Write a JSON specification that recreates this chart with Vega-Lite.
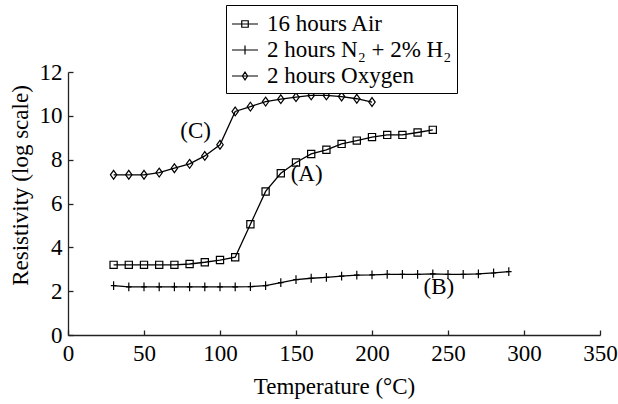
{
  "$schema": "https://vega.github.io/schema/vega-lite/v6.json",
  "width": 532,
  "height": 263,
  "autosize": "none",
  "padding": {"left": 68, "top": 72, "right": 18, "bottom": 69},
  "background": "white",
  "config": {
    "view": {"stroke": null},
    "font": "Liberation Serif",
    "axis": {
      "grid": false,
      "domainColor": "#222222",
      "domainWidth": 1.3,
      "tickColor": "#222222",
      "tickWidth": 1.3,
      "tickSize": -5,
      "labelFont": "Liberation Serif",
      "labelFontSize": 23,
      "labelColor": "black",
      "labelFlush": false,
      "labelOverlap": false,
      "titleFont": "Liberation Serif",
      "titleFontSize": 23,
      "titleFontWeight": "normal",
      "titleColor": "black"
    }
  },
  "datasets": {
    "curves": [
      {"series": "16 hours Air", "t": 30, "r": 3.2},
      {"series": "16 hours Air", "t": 40, "r": 3.2},
      {"series": "16 hours Air", "t": 50, "r": 3.2},
      {"series": "16 hours Air", "t": 60, "r": 3.2},
      {"series": "16 hours Air", "t": 70, "r": 3.2},
      {"series": "16 hours Air", "t": 80, "r": 3.24},
      {"series": "16 hours Air", "t": 90, "r": 3.32},
      {"series": "16 hours Air", "t": 100, "r": 3.42},
      {"series": "16 hours Air", "t": 110, "r": 3.55},
      {"series": "16 hours Air", "t": 120, "r": 5.05},
      {"series": "16 hours Air", "t": 130, "r": 6.55},
      {"series": "16 hours Air", "t": 140, "r": 7.38},
      {"series": "16 hours Air", "t": 150, "r": 7.87},
      {"series": "16 hours Air", "t": 160, "r": 8.26},
      {"series": "16 hours Air", "t": 170, "r": 8.45},
      {"series": "16 hours Air", "t": 180, "r": 8.72},
      {"series": "16 hours Air", "t": 190, "r": 8.87},
      {"series": "16 hours Air", "t": 200, "r": 9.03},
      {"series": "16 hours Air", "t": 210, "r": 9.13},
      {"series": "16 hours Air", "t": 220, "r": 9.13},
      {"series": "16 hours Air", "t": 230, "r": 9.24},
      {"series": "16 hours Air", "t": 240, "r": 9.36},
      {"series": "2 hours N₂ + 2% H₂", "t": 30, "r": 2.25},
      {"series": "2 hours N₂ + 2% H₂", "t": 40, "r": 2.2},
      {"series": "2 hours N₂ + 2% H₂", "t": 50, "r": 2.2},
      {"series": "2 hours N₂ + 2% H₂", "t": 60, "r": 2.2},
      {"series": "2 hours N₂ + 2% H₂", "t": 70, "r": 2.2},
      {"series": "2 hours N₂ + 2% H₂", "t": 80, "r": 2.2},
      {"series": "2 hours N₂ + 2% H₂", "t": 90, "r": 2.2},
      {"series": "2 hours N₂ + 2% H₂", "t": 100, "r": 2.2},
      {"series": "2 hours N₂ + 2% H₂", "t": 110, "r": 2.2},
      {"series": "2 hours N₂ + 2% H₂", "t": 120, "r": 2.21},
      {"series": "2 hours N₂ + 2% H₂", "t": 130, "r": 2.25},
      {"series": "2 hours N₂ + 2% H₂", "t": 140, "r": 2.39},
      {"series": "2 hours N₂ + 2% H₂", "t": 150, "r": 2.53},
      {"series": "2 hours N₂ + 2% H₂", "t": 160, "r": 2.59},
      {"series": "2 hours N₂ + 2% H₂", "t": 170, "r": 2.63},
      {"series": "2 hours N₂ + 2% H₂", "t": 180, "r": 2.69},
      {"series": "2 hours N₂ + 2% H₂", "t": 190, "r": 2.73},
      {"series": "2 hours N₂ + 2% H₂", "t": 200, "r": 2.74},
      {"series": "2 hours N₂ + 2% H₂", "t": 210, "r": 2.77},
      {"series": "2 hours N₂ + 2% H₂", "t": 220, "r": 2.77},
      {"series": "2 hours N₂ + 2% H₂", "t": 230, "r": 2.77},
      {"series": "2 hours N₂ + 2% H₂", "t": 240, "r": 2.79},
      {"series": "2 hours N₂ + 2% H₂", "t": 250, "r": 2.77},
      {"series": "2 hours N₂ + 2% H₂", "t": 260, "r": 2.77},
      {"series": "2 hours N₂ + 2% H₂", "t": 270, "r": 2.79},
      {"series": "2 hours N₂ + 2% H₂", "t": 280, "r": 2.83},
      {"series": "2 hours N₂ + 2% H₂", "t": 290, "r": 2.89},
      {"series": "2 hours Oxygen", "t": 30, "r": 7.31},
      {"series": "2 hours Oxygen", "t": 40, "r": 7.31},
      {"series": "2 hours Oxygen", "t": 50, "r": 7.31},
      {"series": "2 hours Oxygen", "t": 60, "r": 7.41},
      {"series": "2 hours Oxygen", "t": 70, "r": 7.61},
      {"series": "2 hours Oxygen", "t": 80, "r": 7.81},
      {"series": "2 hours Oxygen", "t": 90, "r": 8.17},
      {"series": "2 hours Oxygen", "t": 100, "r": 8.68},
      {"series": "2 hours Oxygen", "t": 110, "r": 10.2},
      {"series": "2 hours Oxygen", "t": 120, "r": 10.42},
      {"series": "2 hours Oxygen", "t": 130, "r": 10.65},
      {"series": "2 hours Oxygen", "t": 140, "r": 10.76},
      {"series": "2 hours Oxygen", "t": 150, "r": 10.85},
      {"series": "2 hours Oxygen", "t": 160, "r": 10.93},
      {"series": "2 hours Oxygen", "t": 170, "r": 10.93},
      {"series": "2 hours Oxygen", "t": 180, "r": 10.88},
      {"series": "2 hours Oxygen", "t": 190, "r": 10.78},
      {"series": "2 hours Oxygen", "t": 200, "r": 10.63}
    ],
    "tags": [
      {"label": "(A)", "t": 157, "r": 7.35},
      {"label": "(B)", "t": 244, "r": 2.17},
      {"label": "(C)", "t": 84, "r": 9.3}
    ]
  },
  "resolve": {"scale": {"shape": "independent"}, "legend": {"shape": "independent"}},
  "layer": [
    {
      "data": {"name": "curves"},
      "mark": {"type": "line", "color": "black", "strokeWidth": 1.3},
      "encoding": {
        "x": {
          "field": "t",
          "type": "quantitative",
          "scale": {"domain": [0, 350], "nice": false},
          "axis": {
            "values": [0, 50, 100, 150, 200, 250, 300, 350],
            "labelPadding": 12,
            "title": "Temperature (°C)",
            "titlePadding": 10
          }
        },
        "y": {
          "field": "r",
          "type": "quantitative",
          "scale": {"domain": [0, 12], "nice": false},
          "axis": {
            "values": [0, 2, 4, 6, 8, 10, 12],
            "labelPadding": 11,
            "title": "Resistivity (log scale)",
            "titleX": -48,
            "titleY": 113,
            "titleBaseline": "middle",
            "titleAlign": "center",
            "titleAngle": -90
          }
        },
        "detail": {"field": "series", "type": "nominal"}
      }
    },
    {
      "data": {"name": "curves"},
      "mark": {"type": "point", "filled": false, "color": "black", "strokeWidth": 1.2, "size": 64, "opacity": 1},
      "encoding": {
        "x": {"field": "t", "type": "quantitative"},
        "y": {"field": "r", "type": "quantitative"},
        "shape": {
          "field": "series",
          "type": "nominal",
          "scale": {
            "domain": ["16 hours Air", "2 hours N₂ + 2% H₂", "2 hours Oxygen"],
            "range": [
              "M-0.9,-0.9H0.9V0.9H-0.9Z",
              "M-0.7,0H0.7M0,-1.1V1.1",
              "M0,-1.1L0.8,0L0,1.1L-0.8,0Z"
            ]
          },
          "legend": null
        }
      }
    },
    {
      "data": {"name": "curves"},
      "transform": [{"filter": "datum.t < 0"}],
      "mark": {"type": "point", "filled": false, "color": "black", "strokeWidth": 1.2, "size": 676, "opacity": 1},
      "encoding": {
        "x": {"field": "t", "type": "quantitative"},
        "y": {"field": "r", "type": "quantitative"},
        "shape": {
          "field": "series",
          "type": "nominal",
          "scale": {
            "domain": ["16 hours Air", "2 hours N₂ + 2% H₂", "2 hours Oxygen"],
            "range": [
              "M-1,0H1M-0.25,-0.25H0.25V0.25H-0.25Z",
              "M-1,0H1M0,-0.35V0.35",
              "M-1,0H1M0,-0.3L0.2,0L0,0.3L-0.2,0Z"
            ]
          },
          "legend": {
            "title": null,
            "orient": "none",
            "legendX": 158,
            "legendY": -67,
            "direction": "vertical",
            "strokeColor": "black",
            "fillColor": "white",
            "padding": 5,
            "rowPadding": -3,
            "labelFont": "Liberation Serif",
            "labelFontSize": 23,
            "labelColor": "black",
            "labelLimit": 400,
            "labelOffset": 8,
            "labelExpr": "datum.label + '\u2002'",
            "symbolSize": 676,
            "symbolStrokeWidth": 1.2,
            "symbolStrokeColor": "black",
            "symbolFillColor": "transparent",
            "encode": {
              "legend": {
                "update": {"strokeWidth": {"value": 1.3}}
              }
            }
          }
        }
      }
    },
    {
      "data": {"name": "tags"},
      "mark": {"type": "text", "font": "Liberation Serif", "fontSize": 23, "color": "black", "align": "center", "baseline": "middle"},
      "encoding": {
        "x": {"field": "t", "type": "quantitative"},
        "y": {"field": "r", "type": "quantitative"},
        "text": {"field": "label"}
      }
    }
  ]
}
